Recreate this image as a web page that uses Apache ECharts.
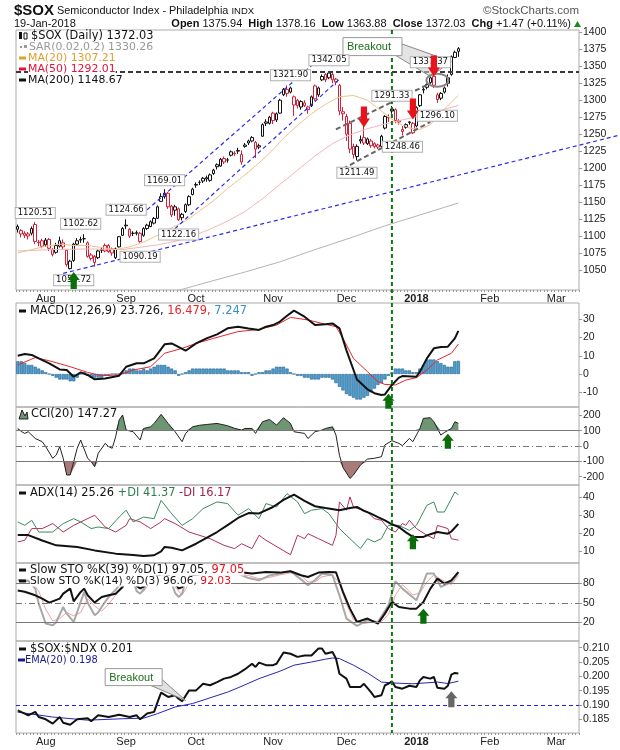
<!DOCTYPE html>
<html>
<head>
    <meta http-equiv="Content-Type" content="text/html; charset=utf-8" />
    <title>$SOX</title>
    <script src="https://cdn.jsdelivr.net/npm/echarts@6/dist/echarts.min.js"></script>
    <style>html,body{margin:0;padding:0;background:#fff;}</style>
</head>
<body>
<div id="main" style="width:620px;height:750px;"></div>
<script type="text/javascript">
// x axis: trading days
var firstDay = '2017-07-20', lastDay = '2018-03-09';
var holidays = ['2017-09-04', '2017-11-23', '2017-12-25', '2018-01-01', '2018-01-15', '2018-02-19'];
var monthNames = ['2018', 'Feb', 'Mar', 'Apr', 'May', 'Jun', 'Jul', 'Aug', 'Sep', 'Oct', 'Nov', 'Dec'];

// price, open / close / low / high
var ohlc = [
    [1114,1110,1105,1117],[1108,1103,1098,1110],[1104,1101,1097,1107],[1103,1100,1095,1106],[1104,1111,1101,1114],
    [1117,1092,1088,1120.51],[1091,1090,1085,1094],[1093,1085,1082,1096],[1087,1094,1084,1097],[1095,1082,1078,1097],
    [1080,1073,1070,1082],[1076,1086,1074,1090],[1085,1093,1083,1099],[1090,1084,1080,1095],[1079,1058,1055,1080],
    [1052,1063,1050.72,1065],[1064,1088,1062,1090],[1088,1093,1086,1097],[1095,1094,1090,1099],[1096,1096,1090,1102.62],
    [1090,1070,1068,1092],[1072,1067,1064,1075],[1070,1061,1055,1072],[1068,1078,1066,1080],[1080,1079,1075,1083],
    [1086,1078,1076,1089],[1086,1077,1075,1088],[1081,1075,1071,1083],[1068,1081,1066,1083],[1084,1099,1083,1100],
    [1101,1111,1100,1113],[1116,1115,1110,1124.66],[1110,1100,1097,1112],[1104,1104,1100,1107],[1104,1105,1101,1108],
    [1104,1092,1090.19,1106],[1101,1111,1099,1113],[1111,1116,1109,1118],[1114,1121,1113,1123],[1119,1126,1117,1128],
    [1126,1143,1125,1145],[1151,1158,1150,1163],[1158,1163,1155,1169.01],[1163,1143,1140,1165],[1144,1131,1128,1146],
    [1143,1138,1130,1146],[1140,1124,1122.16,1142],[1132,1127,1123,1134],[1136,1146,1134,1148],[1146,1158,1144,1160],
    [1161,1169,1160,1171],[1176,1175,1171,1179],[1179,1179,1175,1182],[1185,1181,1178,1187],[1184,1186,1180,1189],
    [1182,1190,1180,1192],[1192,1197,1190,1199],[1205,1202,1198,1207],[1203,1213,1202,1215],[1214,1209,1206,1217],
    [1212,1212,1208,1215],[1219,1224,1217,1226],[1222,1221,1218,1225],[1226,1225,1221,1230],[1209,1220,1205,1226],
    [1232,1234,1230,1237],[1240,1237,1234,1242],[1240,1245,1238,1247],[1238,1228,1215,1240],[1231,1233,1228,1236],
    [1247,1264,1246,1266],[1266,1268,1262,1272],[1266,1275,1264,1277],[1281,1270,1265,1283],[1271,1280,1268,1282],
    [1281,1300,1280,1302],[1308,1316,1306,1318],[1316,1310,1305,1321.90],[1312,1318,1310,1320],[1305,1293,1277,1307],
    [1300,1292,1288,1302],[1290,1298,1286,1300],[1292,1296,1290,1300],[1290,1286,1280,1292],[1292,1305,1290,1307],
    [1321,1302,1299,1323],[1308,1318,1305,1320],[1330,1335,1328,1338],[1338,1330,1327,1340],[1333,1340,1331,1342.05],
    [1338,1330,1325,1340],[1331,1327,1322,1333],[1322,1284,1278,1324],[1280,1283,1270,1290],[1276,1250,1240,1280],
    [1266,1228,1222,1270],[1232,1220,1214,1236],[1217,1232,1211.49,1235],[1240,1242,1236,1248],[1245,1237,1234,1262],
    [1236,1243,1234,1245],[1240,1233,1230,1243],[1236,1232,1229,1238],[1234,1231,1228,1236],[1232,1247,1230,1249],
    [1259,1276,1257,1278],[1275,1274,1268,1279],[1284,1287,1280,1291.33],[1286,1270,1266,1288],[1270,1268,1264,1272],
    [1254,1257,1248.46,1262],[1260,1264,1258,1266],[1268,1267,1264,1269],[1266,1252,1250,1268],[1262,1289,1260,1291],
    [1292,1308,1290,1309],[1315,1316,1310,1319],[1323,1319,1316,1325],[1326,1333,1324,1335],[1335,1322,1318,1337.37],
    [1308,1301,1296.10,1311],[1303,1310,1300,1312],[1312,1318,1310,1320],[1333,1325,1320,1338],[1338,1364,1336,1366],
    [1363,1370.56,1362,1373],[1375.94,1372.03,1363.88,1378.16]
];

// moving averages, [bar, value]
var ma20 = [[0,1075],[4,1080],[8,1085],[12,1088],[16,1086],[20,1086],[24,1083],[28,1080],[32,1084],[36,1091],[40,1101],[44,1112],[48,1122],[52,1137],[56,1152],[60,1170],[64,1186],[68,1203],[72,1222],[76,1244],[80,1263],[84,1280],[88,1294],[92,1305],[96,1307],[100,1300],[104,1284],[108,1268],[112,1259],[115,1257],[118,1264],[121,1282],[124,1297],[126,1307.21]];
var ma50 = [[0,1078],[10,1080],[20,1081],[30,1080],[40,1087],[45,1092],[50,1100],[55,1110],[60,1122],[65,1136],[70,1155],[75,1176],[80,1197],[85,1218],[90,1236],[95,1249],[100,1258],[105,1265],[110,1271],[115,1277],[120,1284],[126,1292.01]];
var ma200 = [[40,1012],[46,1020],[55,1033],[65,1047],[75,1062],[85,1080],[95,1097],[105,1115],[115,1131],[126,1148.67]];

// MACD(12,26,9)
var macdLine = [[0,10],[2,11],[4,10.5],[6,8.6],[9,5.9],[12,2.5],[14,2.2],[16,-1.5],[18,0.9],[20,-0.5],[22,-2.9],[25,-2.4],[29,-0.9],[31,4],[34,5.9],[36,5.9],[39,8.6],[42,16.3],[44,16.8],[48,12.8],[51,16.8],[54,19.6],[57,21.8],[60,25.1],[63,26],[66,25],[69,24.2],[71,26],[73,26.9],[75,28.8],[77,32],[79,34.8],[82,31.5],[85,26.9],[88,27.3],[90,27.8],[92,25.1],[94,13],[97,-3],[100,-8.4],[102,-10.5],[104,-11.5],[105,-11.2],[107,-6],[109,-2],[110,-1.1],[114,-1.5],[115,1.3],[117,8.6],[119,14.1],[121,14.8],[123,15],[125,19.6],[126,23.726]];
var macdSignal = [[0,5],[5,9],[9,7.3],[15,4],[20,0.9],[24,-0.9],[29,-0.5],[33,2.2],[38,4],[42,11.4],[47,14.1],[51,16.8],[56,19.6],[63,23.3],[69,24.5],[74,26.9],[78,31.1],[83,29.7],[87,27.8],[91,26],[93,19.6],[96,8.6],[100,1.3],[103,-4.2],[105,-5.7],[108,-6],[111,-3.3],[114,-2],[117,2.2],[120,7.7],[124,11.4],[126,16.479]];
var macdHist = [
    7,7,6,5,5,4,3,2,1,0,
    -1,-2,-3,-3,-3,-4,-4,-2,0,1,
    -1,-2,-2,-2,-2,-1,-1,0,0,0,
    1,2,3,3,2,2,3,2,3,4,
    5,5,5,4,3,2,-1,0,1,2,
    3,3,3,3,3,3,3,3,3,3,
    2,2,2,2,1,1,1,-1,0,1,
    1,2,2,3,4,4,4,3,1,0,
    -1,-1,-2,-2,-3,-3,-3,-2,-2,-2,
    -3,-5,-7,-9,-11,-12,-13,-14,-14,-13,
    -12,-10,-8,-6,-5,-3,-1,1,3,3,
    3,2,2,1,1,3,5,8,8,8,
    7,6,5,4,4,7,7.247
];

// CCI(20)
var cci = [[0,114],[1,95],[2,82],[3,93],[5,49],[7,28],[8,-4],[10,-80],[11,-59],[12,-4],[13,-80],[14,-189],[15,-189],[17,-15],[18,39],[20,-80],[21,-102],[22,-135],[23,-48],[25,17],[26,-4],[27,-15],[28,60],[29,170],[30,202],[31,104],[33,93],[35,39],[36,114],[38,125],[39,147],[41,206],[43,147],[45,93],[47,28],[48,82],[50,125],[52,135],[54,140],[57,147],[60,132],[62,115],[64,104],[65,114],[67,114],[68,82],[70,158],[72,173],[74,136],[76,184],[78,147],[79,93],[82,82],[83,49],[85,93],[87,104],[88,114],[90,125],[91,71],[92,-60],[93,-140],[95,-211],[96,-189],[98,-124],[100,-85],[102,-80],[104,-70],[105,7],[107,35],[109,17],[110,2],[112,49],[113,28],[115,114],[116,180],[118,184],[119,158],[121,71],[122,88],[124,114],[125,158],[126,147.27]];

// ADX(14)
var adx = [[0,19],[3,19],[7,16],[11,13.3],[17,12.4],[22,10.5],[28,8.7],[33,8],[36,7.4],[39,7.8],[41,10],[42,12.4],[44,12],[47,10.5],[51,14.2],[57,20.7],[60,24.5],[63,28.5],[66,31.2],[69,31],[73,34.6],[76,38.5],[79,41.5],[82,38],[85,35],[88,34],[92,32.8],[95,34],[97,34.6],[99,32.5],[101,30.9],[103,29],[105,27.2],[107,25],[109,23.5],[111,20.5],[113,18],[116,18],[118,19.5],[120,20.7],[123,19.8],[124,21],[126,25.26]];
var plusDI = [[0,26.3],[2,24.4],[4,27.2],[6,20.7],[10,20.7],[13,25.4],[16,28.1],[18,26.3],[21,22.6],[23,23.5],[26,22.6],[29,29],[31,32.8],[33,26.3],[36,29],[39,28.1],[41,38.3],[44,30.9],[47,24.4],[50,28.1],[53,33.7],[57,37.4],[60,36.5],[63,30],[66,33.7],[69,28.1],[71,36.5],[74,34.6],[77,42],[80,37.4],[82,30.9],[84,32.8],[87,33.7],[89,30.9],[92,22.6],[95,17],[98,11.5],[100,17],[102,15.2],[104,17],[106,24.4],[109,24.4],[112,21.6],[114,24.4],[117,35.5],[119,37.4],[120,31.8],[122,31.8],[125,42.9],[126,41.37]];
var minusDI = [[0,15.2],[2,16.1],[4,22.6],[7,22.6],[10,25.4],[13,20.7],[16,24.4],[19,27.2],[22,30],[25,23.5],[28,20.7],[31,24.4],[32,28.1],[35,26.3],[38,22.6],[41,26.3],[42,28.1],[45,25.4],[49,20.7],[55,17],[59,13.3],[62,11.5],[64,14.2],[67,11.5],[69,18.9],[71,16.1],[75,11.5],[78,8.1],[80,18.9],[82,17],[83,19.8],[86,17],[90,13.3],[91,18.9],[92,37.4],[94,32.8],[95,40.2],[96,34.6],[100,31.8],[102,28.1],[104,27.2],[106,22.6],[108,20.7],[110,25.4],[111,24.4],[112,27.2],[114,22.6],[117,18.9],[119,17],[120,24.4],[123,22.6],[124,17],[126,16.17]];

// slow stochastics
var stoK39 = [[0,69],[2,67],[5,61.5],[7,56.4],[9,50.3],[12,56.4],[13,64],[15,71.8],[16,52.3],[18,66.7],[19,71.8],[20,61.5],[22,50.3],[24,59],[26,61.5],[28,64],[30,74.4],[31,85],[33,84],[34,76],[35,72],[36,75],[37,80],[38,85],[40,92],[42,96],[44,88],[45,80],[46,72],[47,74],[48,85],[50,92],[53,95],[56,96],[60,97],[63,97.5],[67,94.9],[71,97.5],[75,96.4],[78,98.5],[81,92.3],[83,89.7],[86,96.4],[89,97.5],[91,97],[93,66.7],[95,41],[97,20.5],[100,25.7],[103,18],[105,33.3],[107,51.3],[109,43.6],[112,41],[114,41],[116,51.3],[118,71.8],[120,87.2],[122,79.5],[124,84.6],[126,97.05]];
var stoK14 = [[0,85],[3,84],[5,71.8],[6,48.7],[8,18],[10,15.4],[11,20],[13,43.6],[14,33.3],[16,20.5],[18,51.3],[19,66.7],[20,50],[22,30.8],[23,35],[24,43.6],[26,59],[28,70],[29,77],[31,90],[33,85],[34,68],[35,64],[36,70],[37,82],[39,92],[42,98],[44,80],[45,65],[46,59],[47,64],[48,85],[50,95],[55,96],[60,93],[63,94.9],[66,88],[69,84.6],[72,92],[75,94.9],[78,98.5],[81,86],[83,77],[85,85],[87,94.9],[90,92.3],[92,61.5],[94,25.7],[97,14.4],[100,23.1],[103,20.5],[106,46.2],[108,83.1],[110,71.8],[114,53.8],[117,94.9],[119,94.9],[121,74.4],[124,82],[126,96.06]];
var stoD14 = [[0,84],[4,82],[6,68],[8,40],[10,22],[12,26],[14,35],[16,30],[18,35],[20,56],[22,45],[24,37],[26,48],[28,62],[30,78],[32,86],[34,78],[36,68],[38,82],[40,92],[43,92],[45,74],[47,62],[49,80],[51,92],[56,95],[60,94],[63,94],[66,92],[69,87],[72,89],[75,93],[78,96],[81,92],[83,82],[85,82],[87,90],[90,93],[92,80],[94,48],[96,24],[99,18],[101,20],[104,21],[106,32],[108,62],[110,78],[113,62],[115,65],[117,82],[119,93],[121,86],[124,78],[126,92.03]];

// $SOX:$NDX ratio and its EMA(20)
var ratio = [[0,0.1881],[2,0.1870],[3,0.1864],[5,0.1876],[6,0.1858],[8,0.1850],[10,0.1835],[12,0.1858],[13,0.1838],[15,0.1831],[17,0.1850],[20,0.1854],[21,0.1843],[23,0.1864],[26,0.1858],[29,0.1866],[32,0.1858],[34,0.1864],[35,0.1850],[37,0.1870],[39,0.1876],[40,0.1911],[41,0.1943],[43,0.1928],[45,0.1934],[46,0.1922],[47,0.1913],[49,0.1951],[51,0.1951],[53,0.1974],[55,0.1969],[57,0.1980],[59,0.1992],[61,0.1998],[63,0.2009],[65,0.2025],[67,0.2044],[68,0.2033],[69,0.2048],[71,0.2039],[73,0.2039],[74,0.2044],[76,0.2083],[78,0.2079],[80,0.2068],[82,0.2073],[84,0.2073],[86,0.2097],[87,0.2097],[88,0.2079],[90,0.2085],[91,0.2062],[92,0.2009],[94,0.1992],[95,0.1963],[98,0.1963],[99,0.1974],[101,0.1945],[102,0.1928],[104,0.1934],[105,0.1969],[106,0.1974],[107,0.1983],[108,0.1963],[110,0.1957],[112,0.1967],[114,0.1963],[115,0.1986],[116,0.1998],[118,0.1992],[119,0.1998],[120,0.1960],[122,0.1957],[123,0.1967],[124,0.2006],[125,0.2012],[126,0.201]];
var ratioEma = [[0,0.1875],[10,0.1858],[20,0.1847],[30,0.1852],[36,0.1854],[40,0.1870],[45,0.1893],[50,0.1905],[55,0.1925],[60,0.1945],[63,0.1960],[69,0.1992],[75,0.2018],[79,0.2039],[84,0.2050],[88,0.2060],[90,0.2064],[92,0.2062],[96,0.2039],[100,0.2012],[104,0.1980],[107,0.1977],[113,0.1974],[120,0.1980],[123,0.1975],[126,0.1983]];

// axis labels
var priceTicks = [1050,1075,1100,1125,1150,1175,1200,1225,1250,1275,1300,1325,1350,1375,1400];
var macdTicks = [-10,0,10,20,30];
var cciTicks = [-200,-100,0,100,200];
var adxTicks = [10,20,30,40];
var stoTicks = [20,50,80];
var ratioTicks = [0.185,0.190,0.195,0.200,0.205,0.210];

// levels drawn on the panels
var resistance = 1342;
var ratioLevel = 0.1942;
var signalBar = 107;

// annotated highs and lows
var notes = [
    ['1120.51', 4.6, 1134], ['1102.62', 18.4, 1118], ['1050.72', 15.6, 1035], ['1090.19', 34.9, 1069.6],
    ['1124.66', 30.7, 1138.6], ['1169.01', 41.9, 1182], ['1122.16', 46, 1102.4], ['1321.90', 77.9, 1336.8],
    ['1342.05', 89.4, 1359], ['1211.49', 97, 1193.2], ['1291.33', 107.4, 1306.6], ['1248.46', 110.2, 1231.6],
    ['1296.10', 120.3, 1277], ['1337.37', 118.4, 1356]
];

var dates = [];
(function () {
    var d = new Date(firstDay + 'T00:00:00Z');
    var end = new Date(lastDay + 'T00:00:00Z');
    while (d <= end) {
        var s = d.toISOString().slice(0, 10);
        var wd = d.getUTCDay();
        if (wd !== 0 && wd !== 6 && holidays.indexOf(s) < 0) dates.push(s);
        d.setUTCDate(d.getUTCDate() + 1);
    }
})();
function monthStart(i) {
    return i > 0 && dates[i].slice(5, 7) !== dates[i - 1].slice(5, 7);
}

var candleItems = ohlc.map(function (c, i) {
    var prev = i > 0 ? ohlc[i - 1][1] : c[1];
    var col = c[1] >= prev ? '#111' : '#d41f3a';
    return {
        value: c,
        itemStyle: { color: '#fff', color0: col, borderColor: col, borderColor0: col, borderWidth: 1 }
    };
});

var panes = [[30, 260], [303, 104], [407, 78], [485, 78], [563, 78], [641, 92]];
var yRange = [[1020.5, 1403.4], [-18.1, 39], [-254, 254], [3.5, 46.8], [-8.8, 111.2], [0.18022, 0.21234]];
var yTicks = [priceTicks, macdTicks, cciTicks, adxTicks, stoTicks, ratioTicks];
var AX = '"Liberation Sans", Arial, sans-serif';
var LG = '"DejaVu Sans", Verdana, sans-serif';

var chart = echarts.init(document.getElementById('main'));

function lineS(xi, data, color, width, extra) {
    var s = {
        type: 'line', xAxisIndex: xi, yAxisIndex: xi, data: data, symbol: 'none',
        lineStyle: { color: color, width: width }, silent: true
    };
    for (var k in extra) s[k] = extra[k];
    return s;
}
function hLines(list) {
    return {
        silent: true, symbol: ['none', 'none'], label: { show: false }, animation: false,
        data: list.map(function (l) {
            return { yAxis: l[0], lineStyle: { color: l[1], width: l[2], type: l[3] } };
        })
    };
}

var option = {
    animation: false,
    backgroundColor: '#fff',
    grid: panes.map(function (p) {
        return { left: 16, width: 563, top: p[0], height: p[1], show: true, borderColor: '#aaa', borderWidth: 1 };
    }),
    xAxis: panes.map(function (p, i) {
        var lab = i === 0 || i === 5;
        return {
            type: 'category', gridIndex: i, data: dates, boundaryGap: true,
            axisLine: { show: false },
            axisTick: { show: lab, interval: 0, length: 2, lineStyle: { color: '#999' } },
            axisLabel: {
                show: lab, margin: 3, fontSize: 11, color: '#222', fontFamily: AX,
                interval: function (idx) { return monthStart(idx); },
                formatter: function (v) {
                    var m = +v.slice(5, 7) - 1;
                    return m === 0 ? '{b|2018}' : monthNames[m];
                },
                rich: { b: { fontWeight: 'bold', fontSize: 11, fontFamily: AX, color: '#222' } }
            },
            splitLine: { show: false }
        };
    }),
    yAxis: panes.map(function (p, i) {
        return {
            type: 'value', gridIndex: i, position: 'right', min: yRange[i][0], max: yRange[i][1],
            splitLine: { show: false }, axisLine: { show: false },
            axisTick: { show: true, length: 3, customValues: yTicks[i], lineStyle: { color: '#999' } },
            axisLabel: {
                customValues: yTicks[i], margin: 4, fontSize: 10.5, color: '#222', fontFamily: AX,
                formatter: i === 5 ? function (v) { return v.toFixed(3); } : function (v) { return String(v); }
            }
        };
    }),
    series: [
        lineS(0, ma200, '#b4b4b4', 1),
        lineS(0, ma50, '#f3b5bb', 1),
        lineS(0, ma20, '#ebc48e', 1),
        {
            type: 'candlestick', xAxisIndex: 0, yAxisIndex: 0, barWidth: 3, data: candleItems, silent: true,
            markLine: hLines([[resistance, '#3a3a3a', 2, [5, 3]]])
        },
        {
            type: 'bar', xAxisIndex: 1, yAxisIndex: 1, data: macdHist, barWidth: 3.2, silent: true,
            itemStyle: { color: '#4f9fd0', borderColor: '#23628f', borderWidth: 0.6 }
        },
        lineS(1, macdSignal, '#e8262b', 1),
        lineS(1, macdLine, '#111', 2),
        lineS(2, cci.map(function (p) { return [p[0], 100]; }), '#000', 0, { stack: 'up', stackStrategy: 'all', lineStyle: { width: 0, opacity: 0 } }),
        lineS(2, cci.map(function (p) { return [p[0], Math.max(p[1] - 100, 0)]; }), '#000', 0,
            { stack: 'up', stackStrategy: 'all', lineStyle: { width: 0, opacity: 0 }, areaStyle: { color: '#6f9673', opacity: 1 } }),
        lineS(2, cci.map(function (p) { return [p[0], -100]; }), '#000', 0, { stack: 'dn', stackStrategy: 'all', lineStyle: { width: 0, opacity: 0 } }),
        lineS(2, cci.map(function (p) { return [p[0], Math.min(p[1] + 100, 0)]; }), '#000', 0,
            { stack: 'dn', stackStrategy: 'all', lineStyle: { width: 0, opacity: 0 }, areaStyle: { color: '#a87a78', opacity: 1 } }),
        lineS(2, cci, '#222', 1, {
            markLine: hLines([[100, '#777', 1, 'solid'], [-100, '#777', 1, 'solid'], [0, '#777', 1, [6, 3, 1, 3]]])
        }),
        lineS(3, minusDI, '#b0305a', 1),
        lineS(3, plusDI, '#3c8a5c', 1),
        lineS(3, adx, '#111', 2),
        lineS(4, stoD14, '#f4a0a0', 1, {
            markLine: hLines([[80, '#777', 1, 'solid'], [20, '#777', 1, 'solid'], [50, '#777', 1, [6, 3, 1, 3]]])
        }),
        lineS(4, stoK14, '#a8a8a8', 2),
        lineS(4, stoK39, '#111', 2),
        lineS(5, ratioEma, '#2626b0', 1, {
            markLine: hLines([[ratioLevel, '#2222ee', 1.2, [4, 3]]])
        }),
        lineS(5, ratio, '#111', 2)
    ]
};
chart.setOption(option);

// annotations, placed with the chart's own scales
function P(g, i, v) { return chart.convertToPixel({ gridIndex: g }, [i, v]); }
var G = [];
function addText(x, y, s, size, family, fill, extra) {
    var st = { text: s, x: x, y: y, fontSize: size, fontFamily: family, fill: fill, verticalAlign: 'middle', align: 'left' };
    for (var k in extra) st[k] = extra[k];
    G.push({ type: 'text', z: 100, silent: true, style: st });
}
// parts: [text, colour, bold, size]
function addRich(x, y, parts, size, family, extra) {
    var txt = '', rich = {};
    parts.forEach(function (p, k) {
        txt += '{s' + k + '|' + p[0] + '}';
        rich['s' + k] = { fill: p[1], color: p[1], fontSize: p[3] || size, fontFamily: family, fontWeight: p[2] ? 'bold' : 'normal' };
    });
    var st = { text: txt, rich: rich, x: x, y: y, fontSize: size, fontFamily: family, verticalAlign: 'middle', align: 'left' };
    for (var k in extra) st[k] = extra[k];
    G.push({ type: 'text', z: 100, silent: true, style: st });
}
function addMarker(x, y, color) {
    G.push({ type: 'rect', z: 101, silent: true, shape: { x: x, y: y - 1.5, width: 7, height: 3 }, style: { fill: color } });
}
function addLine(a, b, color, width, dash, z) {
    G.push({ type: 'line', z: z || 90, silent: true, shape: { x1: a[0], y1: a[1], x2: b[0], y2: b[1] },
        style: { stroke: color, lineWidth: width, lineDash: dash } });
}
function addArrow(tip, dir, w, h, head, color) {
    var x = tip[0], y = tip[1], hw = w / 2, sw = w * 0.26;
    var pts = [[0, 0], [hw, head], [sw, head], [sw, h], [-sw, h], [-sw, head], [-hw, head]];
    G.push({ type: 'polygon', z: 110, silent: true,
        shape: { points: pts.map(function (p) { return [x + p[0], y + dir * p[1]]; }) },
        style: { fill: color } });
}

// title block
addRich(14, 11, [['$SOX', '#111', 1, 15], [' Semiconductor Index - Philadelphia ', '#111', 0, 10.9], ['INDX', '#111', 0, 9.5]], 11, AX);
addText(579, 11, '\u00a9StockCharts.com', 11.5, AX, '#555', { align: 'right' });
addText(14, 24, '19-Jan-2018', 11, AX, '#111');
addRich(571, 24, [['Open', '#111', 1], [' 1375.94  ', '#111'], ['High', '#111', 1], [' 1378.16  ', '#111'],
    ['Low', '#111', 1], [' 1363.88  ', '#111'], ['Close', '#111', 1], [' 1372.03  ', '#111'],
    ['Chg', '#111', 1], [' +1.47 (+0.11%)', '#111']], 11, AX, { align: 'right' });
G.push({ type: 'polygon', z: 100, silent: true, shape: { points: [[574, 27], [581, 27], [577.5, 21]] }, style: { fill: '#1c8a1c' } });

// price legend
G.push({ type: 'rect', z: 101, silent: true, shape: { x: 19, y: 32, width: 3, height: 7 }, style: { fill: '#111' } });
G.push({ type: 'rect', z: 101, silent: true, shape: { x: 24, y: 33, width: 3, height: 6 }, style: { fill: '#fff', stroke: '#111', lineWidth: 1 } });
addText(31, 36, '$SOX (Daily) 1372.03', 11.4, LG, '#111', { backgroundColor: '#fff' });
G.push({ type: 'rect', z: 101, silent: true, shape: { x: 20, y: 46, width: 2, height: 2 }, style: { fill: '#999' } });
G.push({ type: 'rect', z: 101, silent: true, shape: { x: 24, y: 45, width: 3, height: 3 }, style: { fill: '#999' } });
addText(29, 47, 'SAR(0.02,0.2) 1330.26', 10.9, LG, '#999', { backgroundColor: '#fff' });
addMarker(19, 58, '#e0a030'); addText(28, 58, 'MA(20) 1307.21', 10.9, LG, '#e0a030', { backgroundColor: '#fff' });
addMarker(19, 69, '#e8103a'); addText(28, 69, 'MA(50) 1292.01', 10.9, LG, '#e8103a', { backgroundColor: '#fff' });
addMarker(19, 80, '#111'); addText(28, 80, 'MA(200) 1148.67', 10.9, LG, '#111', { backgroundColor: '#fff' });

// indicator legends
addMarker(19, 311, '#111');
addRich(30, 311, [['MACD(12,26,9) 23.726, ', '#111'], ['16.479, ', '#e8262b'], ['7.247', '#3a8fc8']], 11.4, LG, { backgroundColor: '#fff' });
G.push({ type: 'polygon', z: 101, silent: true, shape: { points: [[19, 419], [22, 410], [25, 416], [27, 412], [28, 419]] },
    style: { fill: '#6f9673', stroke: '#222', lineWidth: 1 } });
addText(31, 414, 'CCI(20) 147.27', 11.4, LG, '#111', { backgroundColor: '#fff' });
addMarker(19, 493, '#111');
addRich(30, 493, [['ADX(14) 25.26 ', '#111'], ['+DI 41.37 ', '#2e7d4f'], ['-DI 16.17', '#a0244a']], 11.4, LG, { backgroundColor: '#fff' });
addMarker(19, 570, '#111');
addRich(30, 570, [['Slow STO %K(39) %D(1) 97.05, ', '#111'], ['97.05', '#e8101a']], 11.4, LG, { backgroundColor: '#fff' });
addMarker(19, 581, '#111');
addRich(30, 581, [['Slow STO %K(14) %D(3) 96.06, ', '#111'], ['92.03', '#e8101a']], 10.7, LG, { backgroundColor: '#fff' });
addMarker(19, 649, '#111');
addText(30, 649, '$SOX:$NDX 0.201', 11.4, LG, '#111', { backgroundColor: '#fff' });
addMarker(18, 660, '#1a1a8c');
addText(25, 660, 'EMA(20) 0.198', 9.8, LG, '#1a1a8c', { backgroundColor: '#fff' });

// trend lines
[[37.2, 1138.6, 88, 1369], [41.5, 1097, 92, 1331]].forEach(function (t) {
    addLine(P(0, t[0], t[1]), P(0, t[2], t[3]), '#2a2aee', 1.2, [4, 3]);
});
(function () {
    var a = P(0, 12.9, 1045), b = P(0, 80.6, 1132);
    var yEnd = a[1] + (620 - a[0]) * (b[1] - a[1]) / (b[0] - a[0]);
    addLine(a, [620, yEnd], '#2a2aee', 1.2, [4, 3]);
})();
[[90.6, 1257, 118, 1325], [93.4, 1199, 117.5, 1268]].forEach(function (t) {
    addLine(P(0, t[0], t[1]), P(0, t[2], t[3]), '#666', 2, [5, 3]);
});

// signal day
(function () {
    var x = P(0, signalBar, 1300)[0];
    addLine([x, 30], [x, 733], '#0a7a0a', 2, [4, 3], 95);
})();

// breakout callout on price
(function () {
    var b = P(0, 92.8, 1392.2), t1 = P(0, 124, 1357), t2 = P(0, 117.7, 1335);
    G.push({ type: 'polygon', z: 96, silent: true,
        shape: { points: [[b[0] + 58, b[1] + 6], t1, t2, [b[0] + 53, b[1] + 18]] },
        style: { fill: 'rgba(205,205,205,0.55)', stroke: '#888', lineWidth: 1 } });
    G.push({ type: 'rect', z: 97, silent: true, shape: { x: b[0], y: b[1], width: 59, height: 18 },
        style: { fill: '#fff', stroke: '#999', lineWidth: 1 } });
    addText(b[0] + 4, b[1] + 9.5, 'Breakout', 11, AX, '#1b6e1b');
    var c = P(0, 119.6, 1329.5);
    G.push({ type: 'ellipse', z: 105, silent: true, shape: { cx: c[0], cy: c[1], rx: 11, ry: 6.5 },
        style: { fill: 'none', stroke: '#888', lineWidth: 2 } });
})();

// value labels
notes.forEach(function (n) {
    var p = P(0, n[1], n[2]);
    addText(p[0], p[1], n[0], 8.5, LG, '#111', {
        align: 'center', backgroundColor: '#fff', borderColor: '#b0b0b0', borderWidth: 1, padding: [1, 2, 0, 2]
    });
});

// breakout callout on ratio
(function () {
    var b = P(5, 25.3, 0.2027), t = P(5, 47.7, 0.1916);
    G.push({ type: 'polygon', z: 96, silent: true,
        shape: { points: [[b[0] + 46, b[1] + 17], t, [b[0] + 57, b[1] + 11]] },
        style: { fill: '#e0e0e0', stroke: '#888', lineWidth: 1 } });
    G.push({ type: 'rect', z: 97, silent: true, shape: { x: b[0], y: b[1], width: 57, height: 17 },
        style: { fill: '#fff', stroke: '#999', lineWidth: 1 } });
    addText(b[0] + 4, b[1] + 9, 'Breakout', 11, AX, '#1b6e1b');
})();

// arrows
addArrow(P(0, 99.1, 1259.7), -1, 12, 21, 9, '#e8141c');
addArrow(P(0, 112.5, 1271.5), -1, 12, 21, 9, '#e8141c');
addArrow(P(0, 119, 1335), -1, 12, 21, 9, '#e8141c');
addArrow(P(0, 15.7, 1047), 1, 12, 17, 8, '#0a6e0a');
addArrow(P(1, 106.4, -10.8), 1, 12, 15, 7, '#0a6e0a');
addArrow(P(2, 122.6, 80), 1, 12, 15, 7, '#0a6e0a');
addArrow(P(3, 112.5, 19.5), 1, 12, 15, 7, '#0a6e0a');
addArrow(P(4, 116.3, 41), 1, 12, 15, 7, '#0a6e0a');
addArrow(P(5, 124.4, 0.1948), 1, 12, 16, 7, '#666');

chart.setOption({ graphic: { elements: G } });
</script>
</body>
</html>
